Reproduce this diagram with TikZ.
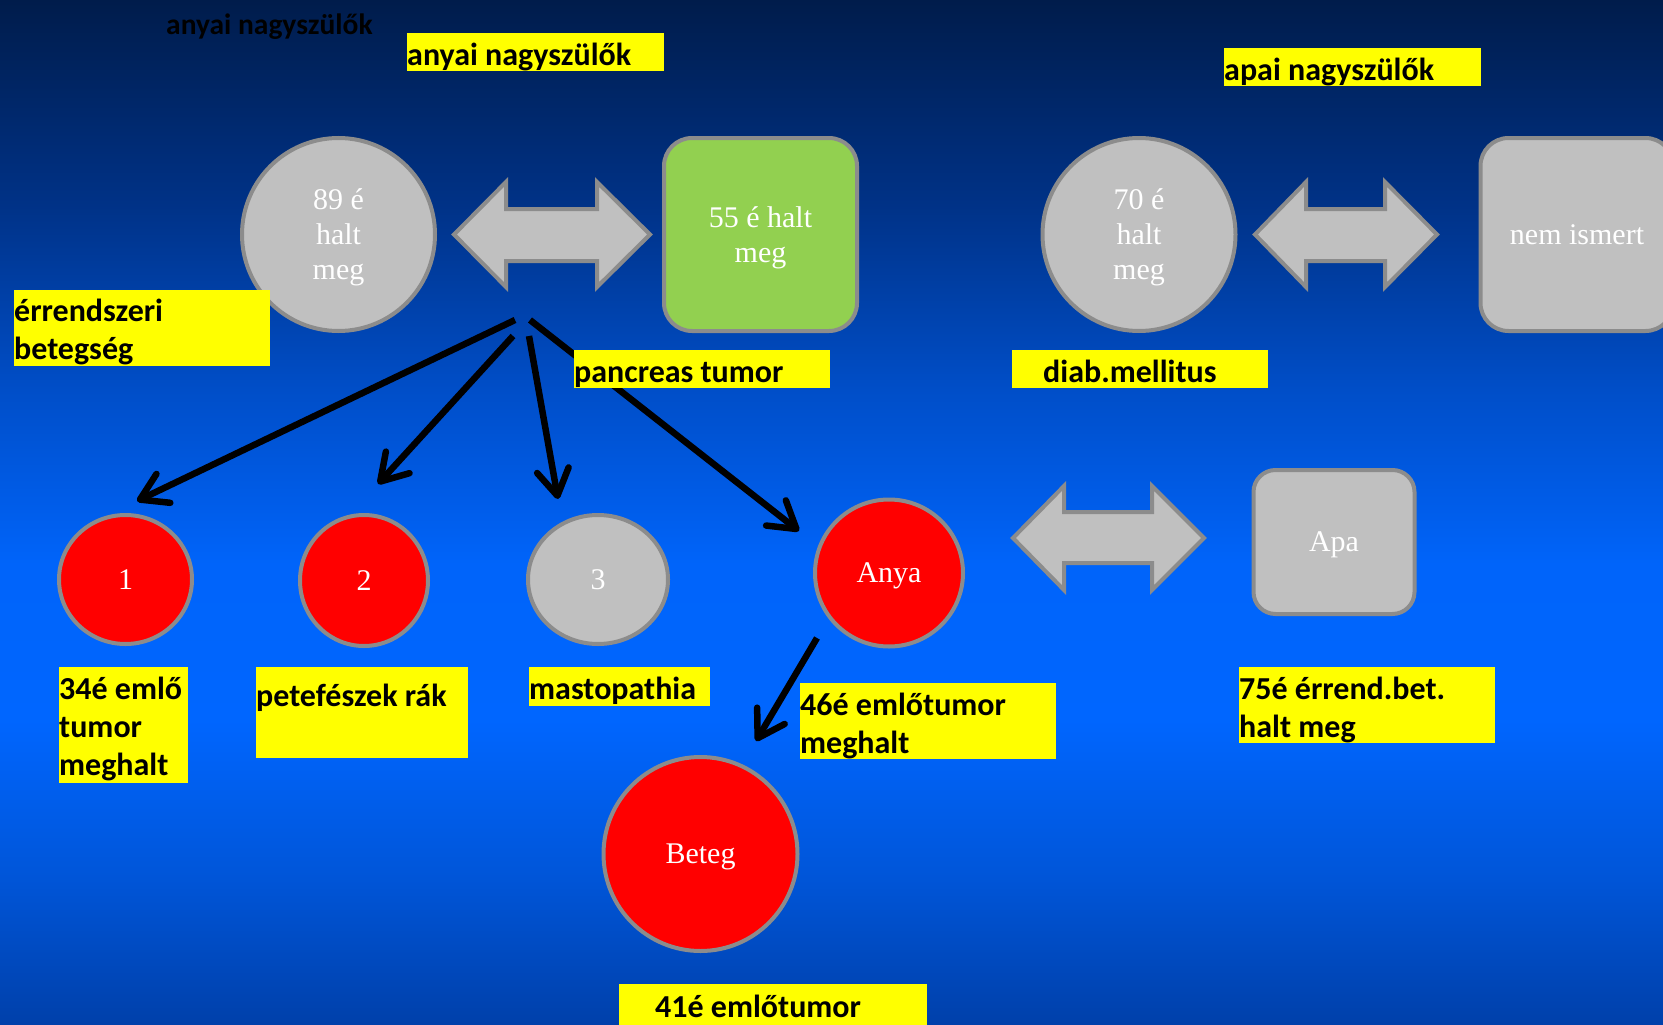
\documentclass[tikz,border=0pt]{standalone}
\usepackage{fontspec}
\usetikzlibrary{shapes.geometric,arrows.meta}
\newfontfamily\tnrfont{Liberation Serif}
\newfontfamily\calibfont{Carlito}
\definecolor{bgA}{RGB}{0,64,170}
\definecolor{bgB}{RGB}{0,86,218}
\definecolor{bgC}{RGB}{0,102,255}
\definecolor{bgD}{RGB}{0,100,250}
\definecolor{bgE}{RGB}{0,78,200}
\definecolor{bgF}{RGB}{0,50,135}
\definecolor{bgG}{RGB}{0,28,75}
\definecolor{bordgray}{RGB}{140,140,140}
\definecolor{pgray}{RGB}{192,192,192}
\definecolor{pred}{RGB}{255,0,0}
\definecolor{pgreen}{RGB}{146,208,80}
\definecolor{lblyellow}{RGB}{255,255,0}
\pgfdeclareverticalshading{bgsh}{100bp}{color(0bp)=(bgA); color(25bp)=(bgA); color(32.5bp)=(bgB); color(40bp)=(bgC); color(47.5bp)=(bgD); color(56bp)=(bgE); color(65bp)=(bgF); color(75bp)=(bgG); color(100bp)=(bgG)}
\tikzset{
  pers/.style={ellipse, draw=bordgray, line width=4pt, text=white, align=center, inner sep=0pt,
    text depth=0pt, font=\tnrfont\fontsize{30}{35}\selectfont},
  persbox/.style={pers, rectangle, rounded corners=#1},
  dblarrow/.style={fill=pgray, draw=bordgray, line width=4pt, line join=miter},
  lbl/.style={fill=lblyellow, inner sep=0pt, anchor=north west, text=black,
    font=\calibfont\bfseries\fontsize{32}{38}\selectfont},
  kid/.style={line width=6.5pt, -{Straight Barb[length=26pt, width=32pt, round]}}
}
\newcommand{\lbltext}[4]{\parbox[t][#2pt][t]{#1pt}{\raggedright\rule{0pt}{#3pt}#4}}
\begin{document}
\begin{tikzpicture}[x=1pt,y=-1pt]
\useasboundingbox (0,0) rectangle (1663,1025);
\fill[shading=bgsh] (0,0) rectangle (1663,1025);

% top text
\node[anchor=base west, inner sep=0pt, text=black, font=\calibfont\bfseries\fontsize{29.5}{35}\selectfont] (toplbl) at (166,35) {anyai nagyszülők};
\node[lbl] (lanyai) at (407,33) {\lbltext{257}{38}{32}{anyai nagyszülők}};
\node[lbl] (lapai) at (1224,48) {\lbltext{257}{38}{32.5}{apai nagyszülők}};

% grandparents
\node[pers, fill=pgray, minimum width=193pt, minimum height=193pt] (gm) at (338.5,234.5) {89 é\\halt\\meg};
\draw[dblarrow] (454,234.5) -- (506,182) -- (506,209) -- (597,209) -- (597,182) -- (650,234.5)
  -- (597,287) -- (597,261) -- (506,261) -- (506,287) -- cycle;
\node[persbox=28pt, fill=pgreen, minimum width=193pt, minimum height=193pt] (gf) at (760.5,234.5) {55 é halt\\meg};

\node[pers, fill=pgray, minimum width=193pt, minimum height=193pt] (pgm) at (1139,234.5) {70 é\\halt\\meg};
\draw[dblarrow] (1255,234.5) -- (1306,182) -- (1306,209) -- (1385,209) -- (1385,182) -- (1437,234.5)
  -- (1385,287) -- (1385,261) -- (1306,261) -- (1306,287) -- cycle;
\node[persbox=28pt, fill=pgray, minimum width=193pt, minimum height=193pt] (pgf) at (1577,234.5) {nem ismert};

\node[lbl] (lerr) at (14,290) {\lbltext{256}{76}{31}{érrendszeri\\betegség}};
\node[lbl] (ldiab) at (1012,350) {\lbltext{256}{38}{32}{\hspace*{31pt}diab.mellitus}};

% children
\node[pers, fill=pred, minimum width=133pt, minimum height=129pt] (k1) at (125.5,579.5) {1};
\node[pers, fill=pred, minimum width=128pt, minimum height=131pt] (k2) at (364,580.5) {2};
\node[pers, fill=pgray, minimum width=140pt, minimum height=129pt] (k3) at (598,579.5) {3};
\node[pers, fill=pred, minimum width=148pt, minimum height=147pt] (anya) at (889,573) {Anya};
\draw[dblarrow] (1013,538) -- (1064,486) -- (1064,512) -- (1152,512) -- (1152,486) -- (1204,538)
  -- (1152,590) -- (1152,563) -- (1064,563) -- (1064,590) -- cycle;
\node[persbox=22pt, fill=pgray, minimum width=161pt, minimum height=144pt] (apa) at (1334,542) {Apa};

\node[pers, fill=pred, minimum width=194pt, minimum height=194pt] (beteg) at (700.5,854) {Beteg};

% arrows
\coordinate (s1) at (515,320);
\coordinate (s2) at (513,336);
\coordinate (s3) at (529,336);
\coordinate (s4) at (530,320);
\coordinate (t1) at (137,501);
\coordinate (t2) at (378,484);
\coordinate (t3) at (558,499);
\coordinate (t4) at (799,531);
\coordinate (s5) at (817,638);
\coordinate (t5) at (756,741);
\draw[kid] (s1) -- (t1);
\draw[kid] (s2) -- (t2);
\draw[kid] (s3) -- (t3);
\draw[kid] (s4) -- (t4);
\draw[kid] (s5) -- (t5);

% labels
\node[lbl] (lpanc) at (574,350) {\lbltext{256}{38}{32}{pancreas tumor}};
\node[lbl] (l1) at (59,667) {\lbltext{129}{116}{32.5}{34é emlő\\tumor\\meghalt}};
\node[lbl] (l2) at (256,667) {\lbltext{212}{91}{39.5}{petefészek rák}};
\node[lbl] (l3) at (529,667) {\lbltext{181}{39}{32}{mastopathia}};
\node[lbl] (l4) at (800,683) {\lbltext{256}{76}{32}{46é emlőtumor\\meghalt}};
\node[lbl] (l5) at (1239,667) {\lbltext{256}{76}{32.5}{75é érrend.bet.\\halt meg}};
\node[lbl] (l6) at (619,984) {\lbltext{308}{45}{33.5}{\hspace*{36pt}41é emlőtumor}};
\end{tikzpicture}
\end{document}
